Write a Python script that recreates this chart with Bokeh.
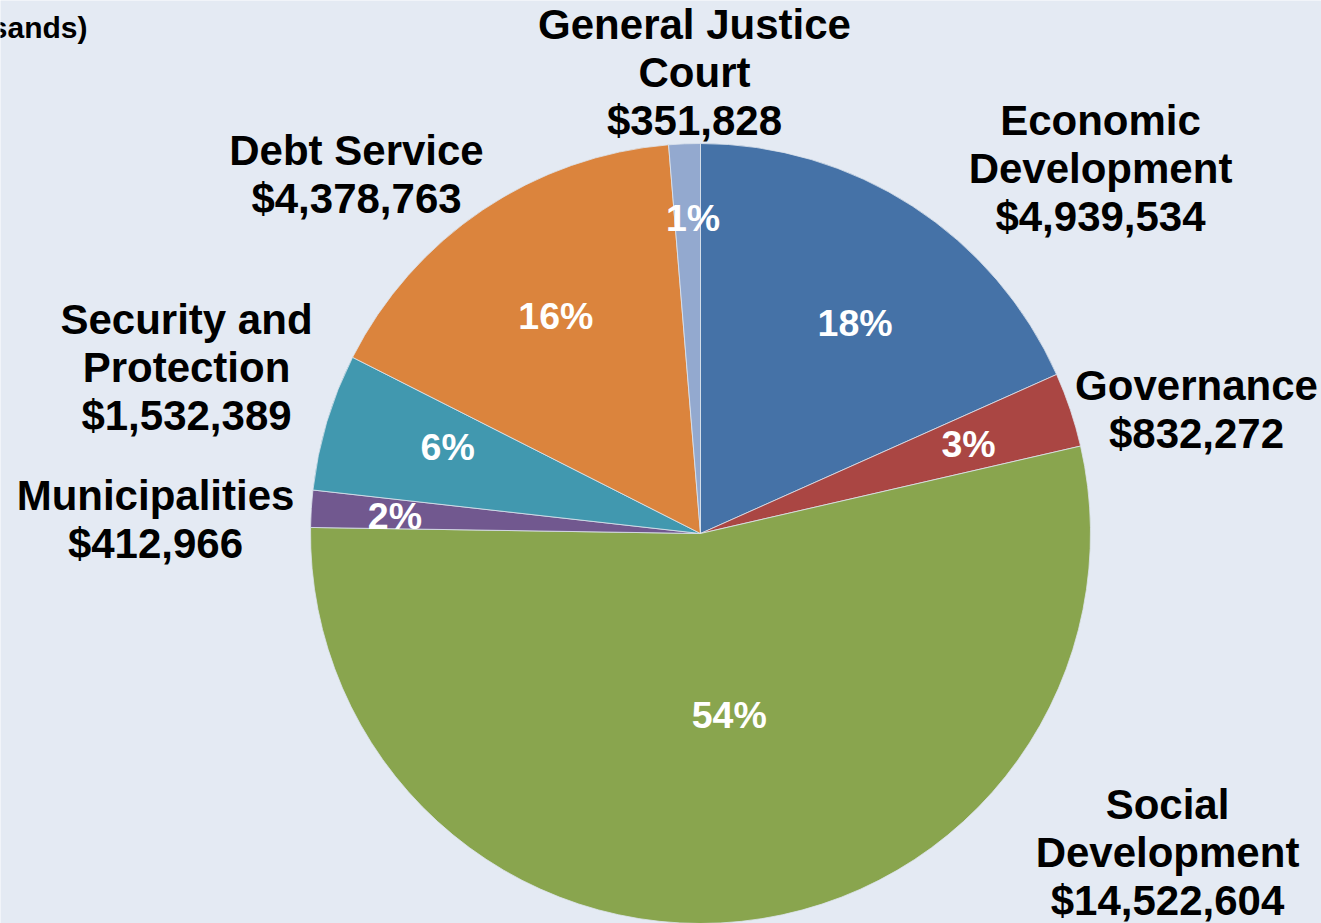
import math
from bokeh.plotting import figure
from bokeh.models import Range1d, ColumnDataSource
from bokeh.core.properties import value
from bokeh.embed import file_html
from bokeh.resources import INLINE

# ---- data ----
categories = ["Economic\nDevelopment", "Governance", "Social\nDevelopment", "Municipalities",
              "Security and\nProtection", "Debt Service", "General Justice\nCourt"]
amounts = [4939534, 832272, 14522604, 412966, 1532389, 4378763, 351828]
colors = ["#4572A7", "#AA4643", "#89A54E", "#71588F", "#4198AF", "#DB843D", "#93A9CF"]
title_text = "(in thousands)"

# ---- layout ----
BG = "#E4EAF3"
W, H = 1321, 923
def fy(y):  # image y -> data y
    return H - y

cx, cy, R = 700, fy(533), 390
pct_radius = [0.67, 0.725, 0.47, 0.785, 0.685, 0.67, 0.81]
pct_angle_shift = [3.3, 0.0, -3.0, -0.3, 2.2, 0.3, 1.0]  # degrees, clockwise
outer_pos = [(1100, 168), (1196, 409), (1167, 852), (155, 519), (186, 367), (356, 174), (694, 72)]

total = sum(amounts)
starts, ends, pcts, px, py = [], [], [], [], []
cum = 0.0
for i, a in enumerate(amounts):
    f0 = cum / total
    cum += a
    f1 = cum / total
    starts.append(math.pi / 2 - f1 * 2 * math.pi)
    ends.append(math.pi / 2 - f0 * 2 * math.pi)
    mid = (f0 + f1) / 2 * 2 * math.pi + math.radians(pct_angle_shift[i])
    r = pct_radius[i] * R
    px.append(cx + r * math.sin(mid))
    py.append(cy + r * math.cos(mid))
    pcts.append(f"{round(a / total * 100)}%")

src = ColumnDataSource(dict(start=starts, end=ends, color=colors, pct=pcts, px=px, py=py))

labels = [f"{c}\n${a:,}" for c, a in zip(categories, amounts)]
lsrc = ColumnDataSource(dict(x=[p[0] for p in outer_pos], y=[fy(p[1]) for p in outer_pos], text=labels))

p = figure(width=W, height=H, x_range=Range1d(0, W), y_range=Range1d(0, H),
           output_backend="svg", toolbar_location=None, min_border=0)
p.axis.visible = False
p.grid.visible = False
p.outline_line_color = None
p.background_fill_color = BG
p.border_fill_color = BG

p.wedge(x=cx, y=cy, radius=R, start_angle="start", end_angle="end", fill_color="color",
        line_color="#DDE4EE", line_width=0.8, source=src)

p.text(x="px", y="py", text="pct", source=src, text_color="white", text_font=value("Liberation Sans"),
       text_font_style="bold", text_font_size="37.5px", text_align="center", text_baseline="middle")

p.text(x="x", y="y", text="text", source=lsrc, text_color="black", text_font=value("Liberation Sans"),
       text_font_style="bold", text_font_size="42px", text_align="center", text_baseline="middle",
       text_line_height=1.03)

p.text(x=[87], y=[fy(27)], text=[title_text], text_color="black", text_font=value("Liberation Sans"),
       text_font_style="bold", text_font_size="30px", text_align="right", text_baseline="middle")

html = file_html(p, INLINE)
html = html.replace("<body>", f'<body style="background:{BG}">', 1)
open("out.html", "w").write(html)
